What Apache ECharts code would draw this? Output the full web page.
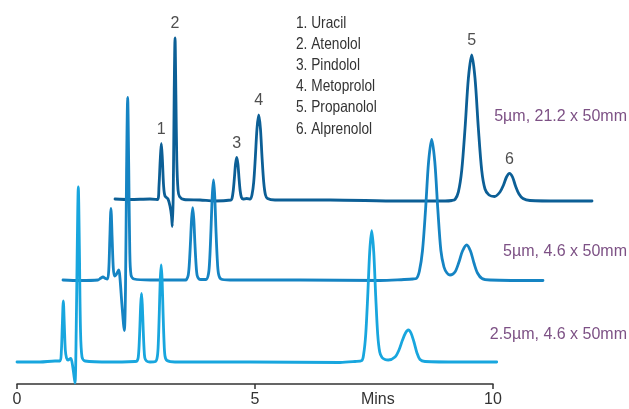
<!DOCTYPE html>
<html><head><meta charset="utf-8">
<script src="https://cdn.jsdelivr.net/npm/echarts@6/dist/echarts.min.js"></script>
<style>html,body{margin:0;padding:0;background:#fff}#c{width:629px;height:409px}</style>
</head><body><div id="c"></div>
<script>
// Chromatograms: [time (min, from start of each trace), signal]
const trace21mm = [[0,1],[0.315,0.5],[0.735,1],[0.893,0.5],[0.924,14],[0.950,40],[0.973,56.5],[0.996,40],[1.021,14],[1.050,4],[1.113,1],[1.155,-6],[1.187,-16],[1.204,-26.5],[1.223,5],[1.244,110],[1.261,162],[1.279,105],[1.298,40],[1.324,10],[1.355,3.5],[1.450,0.5],[1.786,0],[2.101,-1],[2.437,0],[2.458,1.5],[2.483,9],[2.507,21.4],[2.532,36],[2.557,42.7],[2.582,36],[2.606,21.4],[2.630,9],[2.655,2.7],[2.689,1],[2.767,1.5],[2.843,1],[2.878,5.3],[2.914,17.9],[2.948,42.5],[2.983,71.5],[3.019,85],[3.055,71.5],[3.089,42.5],[3.124,17.9],[3.160,5.3],[3.204,1.5],[3.361,0],[4.517,0],[5.987,-1],[6.933,-1],[7.080,-0.5],[7.145,0.6],[7.214,8.1],[7.284,29.6],[7.354,72],[7.424,121.8],[7.494,145],[7.563,121.8],[7.633,72],[7.704,29.6],[7.773,11],[7.857,5],[7.973,3.5],[8.088,8],[8.162,15],[8.225,23],[8.288,26.7],[8.351,23],[8.414,14],[8.487,6],[8.571,1.5],[8.718,-0.5],[9.349,-1],[10.021,-1]];
const trace46mm = [[0,0],[0.357,-0.5],[0.735,0],[0.798,2],[0.840,3],[0.893,1.5],[0.935,1],[0.962,10],[0.983,40],[1.008,71.5],[1.034,40],[1.057,12],[1.082,4],[1.113,5],[1.172,10],[1.197,2],[1.239,-25],[1.288,-50.5],[1.313,-10],[1.336,110],[1.359,182.5],[1.382,110],[1.403,30],[1.429,5],[1.492,1],[1.838,0],[2.574,0],[2.595,0.5],[2.630,4.5],[2.653,15.3],[2.677,36.2],[2.702,60.8],[2.725,72.3],[2.748,60.8],[2.772,36.2],[2.796,15.3],[2.819,4.5],[2.857,1],[2.899,0.5],[3.004,0.5],[3.057,6.25],[3.083,21],[3.109,50],[3.136,84],[3.162,100],[3.188,84],[3.214,50],[3.241,21],[3.267,6.25],[3.319,1],[3.508,0],[4.979,0],[6.660,-0.5],[7.164,0.5],[7.353,1],[7.422,1.5],[7.487,8.8],[7.553,29.5],[7.617,70.4],[7.681,118.3],[7.746,140.7],[7.811,118.3],[7.875,70.4],[7.939,29.5],[8.004,13],[8.067,7],[8.130,5],[8.235,8],[8.319,18],[8.393,29],[8.481,35],[8.561,29],[8.634,17],[8.708,7],[8.803,1.5],[8.971,0],[10.084,-0.5]];
const trace25um = [[0,0],[0.483,0],[0.798,1],[0.903,1],[0.931,10],[0.952,37],[0.973,61],[0.994,37],[1.015,12],[1.040,4],[1.071,2],[1.128,3.7],[1.155,0],[1.187,-10],[1.218,-21],[1.244,32],[1.265,112],[1.288,175],[1.311,112],[1.334,32],[1.366,5],[1.429,1],[1.954,0],[2.479,0.5],[2.521,1],[2.546,4.3],[2.563,14.4],[2.581,34.4],[2.599,57.7],[2.616,68.7],[2.632,57.7],[2.650,34.4],[2.668,14.4],[2.685,4.3],[2.721,1],[2.794,0],[2.910,0.5],[2.950,6],[2.970,20.4],[2.989,48.5],[3.009,81.5],[3.029,97],[3.049,81.5],[3.069,48.5],[3.089,20.4],[3.109,6],[3.151,1.5],[3.319,0],[4.895,0],[6.786,-0.5],[7.101,0.5],[7.242,1.4],[7.284,8.2],[7.326,27.5],[7.368,65.7],[7.410,110.4],[7.452,131.3],[7.494,110.4],[7.536,65.7],[7.578,27.5],[7.620,10],[7.668,4.5],[7.731,2.5],[7.800,2],[7.941,5],[8.025,12],[8.099,22],[8.162,29],[8.221,32],[8.277,29],[8.340,20],[8.403,9],[8.466,2.5],[8.571,0.5],[9.307,0],[10.078,0]];

const peakNames = ['1','2','3','4','5','6'];
const peakTimes = [0.973,1.261,2.557,3.019,7.494,8.288];
const peakHeights = [56.5,162,42.7,85,145,26.7];

const compoundList = ['1. Uracil','2. Atenolol','3. Pindolol','4. Metoprolol','5. Propanolol','6. Alprenolol'];
const columnLabels = ['5µm, 21.2 x 50mm','5µm, 4.6 x 50mm','2.5µm, 4.6 x 50mm'];
const axisTickValues = [0,5,10];
const axisLabelValues = [0,5,7.58,10];
const axisNameText = 'Mins';
const axisNameAt = 7.58;

// stacking offsets (visual waterfall)
const offsets = [
  {dx:2.059, dy:184, color:'#0c5f96'},
  {dx:0.966, dy:104, color:'#1584c3'},
  {dx:0,     dy:22,  color:'#18a6de'}
];
const traces = [trace21mm, trace46mm, trace25um];

const chart = echarts.init(document.getElementById('c'), null, {renderer:'canvas'});
const FONT = '"Liberation Sans", Arial, sans-serif';
const PX_PER_MIN = 47.6;
const PLOT_MAX = 12.5;

const series = traces.map((tr,i)=>({
  type:'line', xAxisIndex:0, yAxisIndex:0,
  data: tr.map(([t,s])=>[t+offsets[i].dx, s+offsets[i].dy]),
  showSymbol:false, symbol:'none', clip:false, smooth:0.3,
  lineStyle:{color:offsets[i].color, width:2.8, join:'round', cap:'round'},
  z: 2+i, animation:false, silent:true
}));
series.push({
  type:'scatter', xAxisIndex:0, yAxisIndex:0, symbolSize:0, clip:false, silent:true, animation:false,
  data: peakNames.map((n,i)=>({name:n, value:[peakTimes[i]+offsets[0].dx, peakHeights[i]+offsets[0].dy]})),
  label:{show:true, position:'top', distance:6, formatter:'{b}', color:'#222', fontSize:16, fontFamily:FONT},
  z:10
});

const graphics = [];
compoundList.forEach((s,i)=>graphics.push({type:'text', left:296, top:15+i*21.1, scaleX:0.83,
  style:{text:s, fill:'#333', font:'16.5px '+FONT}}));
const labelY = [118, 253, 336];
columnLabels.forEach((s,i)=>graphics.push({type:'text', right:2, top:labelY[i]-9.5,
  style:{text:s, fill:'#7d5185', font:'16px '+FONT}}));

chart.setOption({
  animation:false,
  backgroundColor:'#fff',
  grid:[
    {left:17, width:PLOT_MAX*PX_PER_MIN, top:0, bottom:25},
    {left:17, width:10*PX_PER_MIN, top:0, bottom:25}
  ],
  xAxis:[
    {type:'value', gridIndex:0, min:0, max:PLOT_MAX, show:false},
    {type:'value', gridIndex:1, min:0, max:10,
    axisLine:{lineStyle:{color:'#333', width:1.5}},
    axisTick:{show:true, length:5, customValues:axisTickValues, lineStyle:{color:'#333', width:1.5}},
    axisLabel:{customValues:axisLabelValues, color:'#333', fontSize:16, fontFamily:FONT, margin:8,
      formatter:v=> (Math.abs(v-axisNameAt)<1e-6 ? axisNameText : String(v))},
    splitLine:{show:false}}
  ],
  yAxis:[
    {type:'value', gridIndex:0, min:0, max:384, show:false},
    {type:'value', gridIndex:1, min:0, max:384, show:false}
  ],
  series,
  graphic: graphics
});
</script></body></html>
